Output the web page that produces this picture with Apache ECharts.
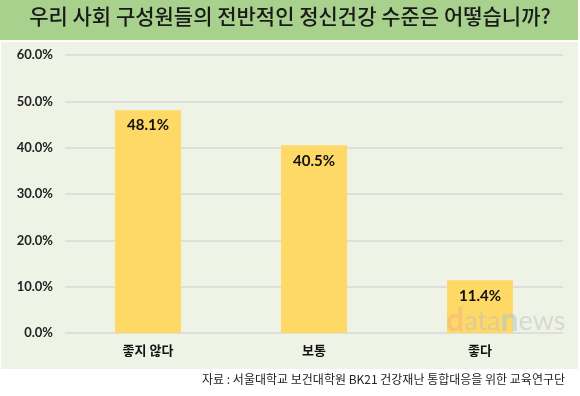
<!DOCTYPE html>
<html><head><meta charset="utf-8">
<script src="https://cdn.jsdelivr.net/npm/echarts@6/dist/echarts.min.js"></script>
<style>html,body{margin:0;padding:0;background:#fff}#c{width:580px;height:396px}</style>
</head><body><div id="c"></div>
<script>
const titleText = '우리 사회 구성원들의 전반적인 정신건강 수준은 어떻습니까?';
const categories = ['좋지 않다', '보통', '좋다'];
const values = [48.1, 40.5, 11.4];
const sourceText = '자료 : 서울대학교 보건대학원 BK21 건강재난 통합대응을 위한 교육연구단';

const chart = echarts.init(document.getElementById('c'), null, {renderer: 'canvas'});
const font = '"Noto Sans CJK KR", "Noto Sans", sans-serif';
chart.setOption({
  animation: false,
  backgroundColor: '#ffffff',
  graphic: [
    {type: 'rect', shape: {x: 0, y: 0, width: 578, height: 40}, style: {fill: '#a9d18e'}, z: -10},
    {type: 'rect', shape: {x: 1, y: 42, width: 577, height: 327}, style: {fill: '#eef3e5'}, z: -10},
    {type: 'text', left: 'center', top: 6, style: {text: titleText, font: '500 21px ' + font, fill: '#1a1a1a'}},
    {type: 'text', right: 15, top: 373, style: {text: sourceText, font: '12px ' + font, fill: '#222'}},
    {type: 'text', left: 446, top: 305, z: 100, style: {
      text: '{d|d}{a|ata}{n|n}{a|ews}', opacity: 0.5,
      rich: {
        d: {font: 'bold 32px Lato, sans-serif', fill: '#f4b183'},
        a: {font: '27px Lato, sans-serif', fill: '#bfbfbf'},
        n: {font: 'bold 32px Lato, sans-serif', fill: '#9dc3e6'}
      }}}
  ],
  grid: {left: 65, right: 17, top: 55, bottom: 63, containLabel: false},
  xAxis: {
    type: 'category', data: categories,
    axisLine: {show: false}, axisTick: {show: false},
    axisLabel: {color: '#111', fontSize: 13, fontFamily: font, fontWeight: 'bold', margin: 11}
  },
  yAxis: {
    type: 'value', min: 0, max: 60, interval: 10,
    axisLine: {show: false}, axisTick: {show: false},
    axisLabel: {formatter: v => v.toFixed(1) + '%', color: '#222', fontSize: 13, fontFamily: 'Lato, sans-serif', fontWeight: 'bold', margin: 12},
    splitLine: {lineStyle: {color: '#d9d9d9', width: 1.5}}
  },
  series: [{
    type: 'bar', data: values, barWidth: 66, z: 2,
    itemStyle: {color: '#ffd966'},
    label: {show: true, position: 'insideTop', distance: 8, formatter: p => p.value.toFixed(1) + '%',
      color: '#111', fontSize: 15, fontFamily: 'Lato, sans-serif', fontWeight: 'bold'}
  }]
});
</script></body></html>
